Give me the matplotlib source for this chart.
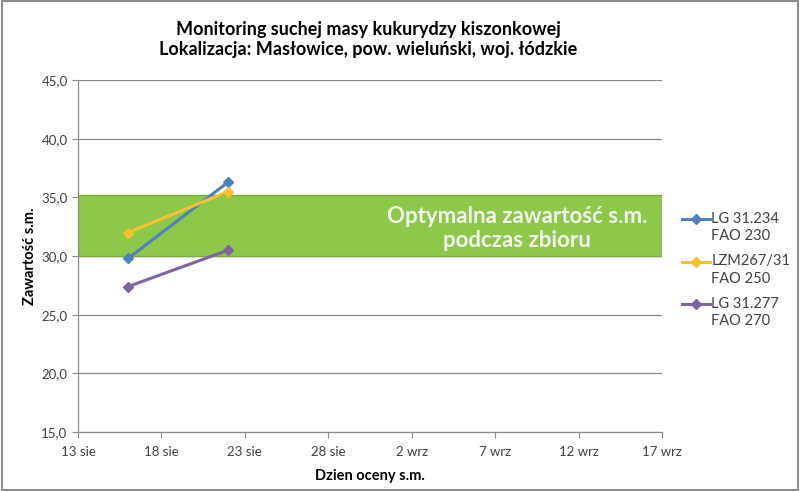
import matplotlib
matplotlib.use("Agg")
import matplotlib.pyplot as plt
import matplotlib.dates as mdates
from matplotlib.patches import Rectangle
from matplotlib.ticker import FuncFormatter
from matplotlib.legend_handler import HandlerLine2D
import numpy as np

plt.rcParams['font.family'] = ['Lato', 'DejaVu Sans']

# data
dates = np.array(['2013-08-16', '2013-08-22'], dtype='datetime64[D]')
lg_31234 = [29.8, 36.3]
lzm_26731 = [32.0, 35.5]
lg_31277 = [27.4, 30.5]
series_labels = ['LG 31.234\nFAO 230', 'LZM267/31\nFAO 250', 'LG 31.277\nFAO 270']
series_colors = ['#4F81BD', '#F9C12E', '#8064A2']

optimum_low, optimum_high = 30.0, 35.2
x_ticks = np.arange(np.datetime64('2013-08-13'), np.datetime64('2013-09-18'), 5)
x_tick_labels = ['13 sie', '18 sie', '23 sie', '28 sie', '2 wrz', '7 wrz', '12 wrz', '17 wrz']
y_ticks = [15, 20, 25, 30, 35, 40, 45]


class TopLineHandler(HandlerLine2D):
    # put the legend marker next to the first line of a two-line label
    def create_artists(self, legend, orig_handle, xdescent, ydescent,
                       width, height, fontsize, trans):
        artists = super().create_artists(legend, orig_handle, xdescent, ydescent,
                                         width, height, fontsize, trans)
        for a in artists:
            a.set_ydata([y + height * 0.85 for y in a.get_ydata()])
        return artists


fig = plt.figure(figsize=(8, 4.91), dpi=100)
ax = fig.add_axes([0.0975, 0.12, 0.73, 0.717])

# optimal band
ax.axhspan(optimum_low, optimum_high, facecolor='#8DC84B', edgecolor='#78AD3C',
           linewidth=1.0, zorder=1)
ax.text(mdates.date2num(np.datetime64('2013-09-08')) + 0.3, (optimum_low + optimum_high) / 2 - 0.25,
        'Optymalna zawartość s.m.\npodczas zbioru', ha='center', va='center',
        color='#F5F8EC', fontsize=16, fontweight='bold', linespacing=1.18, zorder=2)

for vals, lab, col in zip([lg_31234, lzm_26731, lg_31277], series_labels, series_colors):
    ax.plot(dates, vals, color=col, lw=2.2, marker='D', markersize=5,
            label=lab, zorder=3)

ax.set_xlim(x_ticks[0], x_ticks[-1])
ax.set_ylim(15, 45)
ax.set_xticks(x_ticks)
ax.set_xticklabels(x_tick_labels)
ax.set_yticks(y_ticks)
ax.yaxis.set_major_formatter(FuncFormatter(lambda v, p: f'{v:.1f}'.replace('.', ',')))
ax.grid(axis='y', color='#8C8C8C', lw=0.9, zorder=0)
ax.set_axisbelow(True)

for s in ['top', 'right']:
    ax.spines[s].set_visible(False)
for s in ['left', 'bottom']:
    ax.spines[s].set_color('#8C8C8C')
    ax.spines[s].set_linewidth(0.9)
ax.tick_params(colors='#8C8C8C', labelcolor='#404040', labelsize=9.5, length=4)
ax.tick_params(axis='x', pad=6)

ax.set_xlabel('Dzien oceny s.m.', fontsize=10.5, fontweight='bold', labelpad=8)
ax.set_ylabel('Zawartość s.m.', fontsize=10.5, fontweight='bold', labelpad=3)

fig.text(0.46, 0.92, 'Monitoring suchej masy kukurydzy kiszonkowej\n'
         'Lokalizacja: Masłowice, pow. wieluński, woj. łódzkie',
         ha='center', va='center', fontsize=13, fontweight='bold', linespacing=1.2)

leg = ax.legend(loc='upper left', bbox_to_anchor=(0.8525, 0.568), bbox_transform=fig.transFigure,
                frameon=False, fontsize=10.5, handlelength=1.9, handletextpad=0.1,
                borderpad=0, borderaxespad=0, labelspacing=0.75, labelcolor='#404040',
                handler_map={plt.Line2D: TopLineHandler()})
for t in leg.get_texts():
    t.set_linespacing(1.3)

fig.patches.append(Rectangle((0.002, 0.003), 0.996, 0.994, transform=fig.transFigure,
                             fill=False, edgecolor='#8C8C8C', lw=1.5))

fig.savefig('out.png', dpi=100)
